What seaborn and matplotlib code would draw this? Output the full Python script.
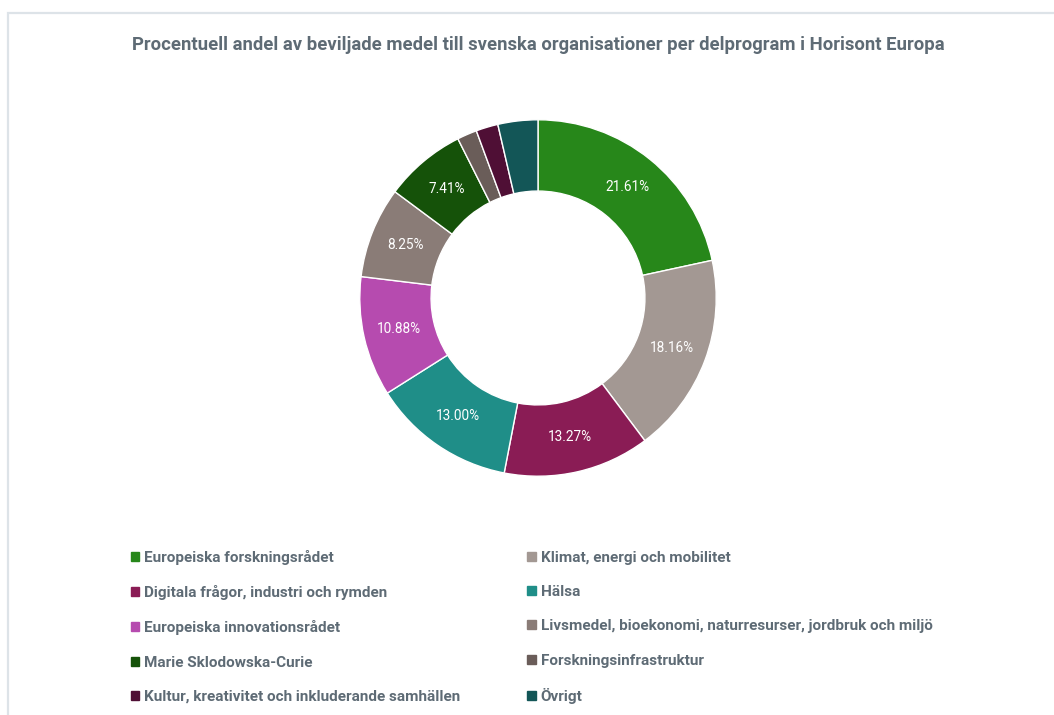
import numpy as np
import matplotlib.pyplot as plt
import matplotlib.patches as mpatches
import seaborn as sns

sns.set_style("white")
plt.rcParams['font.family'] = ['Roboto', 'DejaVu Sans']

# data (percent of granted funding)
programmes = [
    "Europeiska forskningsrådet",
    "Klimat, energi och mobilitet",
    "Digitala frågor, industri och rymden",
    "Hälsa",
    "Europeiska innovationsrådet",
    "Livsmedel, bioekonomi, naturresurser, jordbruk och miljö",
    "Marie Sklodowska-Curie",
    "Forskningsinfrastruktur",
    "Kultur, kreativitet och inkluderande samhällen",
    "Övrigt",
]
shares = [21.61, 18.16, 13.27, 13.00, 10.88, 8.25, 7.41, 1.80, 2.00, 3.62]
colors = ["#27871A", "#A39893", "#8A1C55", "#1F8E88", "#B64BAF",
          "#8A7C77", "#155209", "#6A5D59", "#4F0F35", "#135657"]

title = "Procentuell andel av beviljade medel till svenska organisationer per delprogram i Horisont Europa"
text_col = "#5E6B75"

fig = plt.figure(figsize=(10.54, 7.15), dpi=100)

# light frame around the chart area
fig.patches.append(mpatches.Rectangle((8 / 1054, -0.05), 1.1, 1 - 13 / 715 + 0.05,
                                      transform=fig.transFigure, fill=False,
                                      edgecolor="#DDE3E8", linewidth=1.6))

ax = fig.add_axes([(538 - 180) / 1054, (715 - 478) / 715, 360 / 1054, 360 / 715])


def fmt(p):
    return f"{p:.2f}%" if p > 5 else ""


wedges, _, autotexts = ax.pie(shares, colors=colors, startangle=90, counterclock=False,
                              radius=1.0, autopct=fmt, pctdistance=0.8,
                              wedgeprops=dict(width=0.4, edgecolor="white", linewidth=1.0),
                              textprops=dict(color="white", fontsize=9.8))
ax.set_xlim(-1.01, 1.01)
ax.set_ylim(-1.01, 1.01)
ax.set_aspect("equal")

fig.text(538 / 1054, 1 - 45 / 715, title, ha="center", va="center",
         fontsize=13.3, fontweight="bold", color=text_col)

# legend filled row by row: left column gets items 0,2,4.. right gets 1,3,5..
handles = [mpatches.Patch(color=c, label=l) for c, l in zip(colors, programmes)]
ordered = handles[0::2] + handles[1::2]
leg = fig.legend(handles=ordered, ncol=2, loc="upper left",
                 bbox_to_anchor=(123 / 1054, 1 - 542 / 715),
                 frameon=False, borderpad=0, handlelength=0.55,
                 handleheight=0.55, handletextpad=0.35, labelspacing=1.33,
                 columnspacing=4.35, prop=dict(weight="bold", size=11))
for t in leg.get_texts():
    t.set_color(text_col)

fig.savefig("out.png", dpi=100)
